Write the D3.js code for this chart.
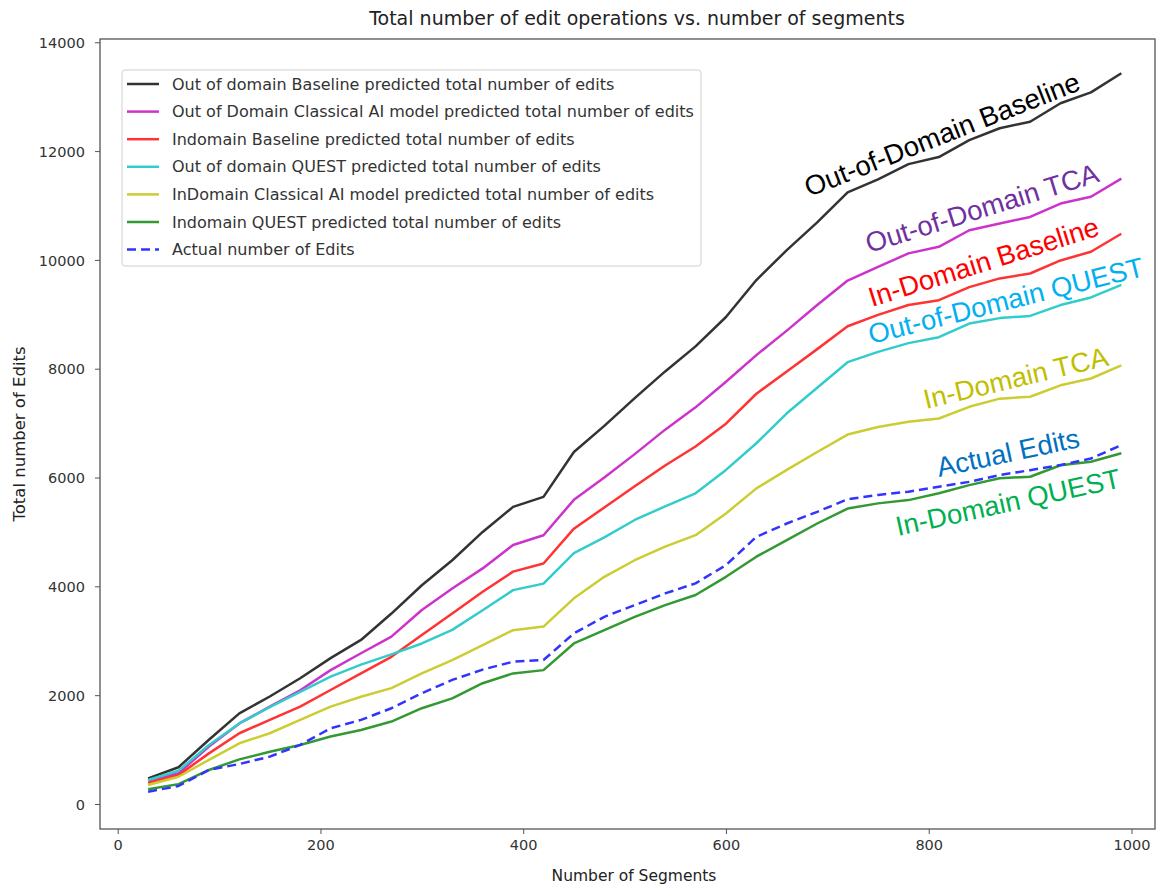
<!DOCTYPE html>
<html>
<head>
<meta charset="utf-8">
<script src="https://cdn.jsdelivr.net/npm/d3@7"></script>
<style>
  html, body { margin: 0; padding: 0; background: #fff; }
  svg { display: block; }
</style>
</head>
<body>
<svg id="chart" width="1156" height="885"></svg>
<script>
// ---------- DATA ----------
const segments = [30,60,90,120,150,180,210,240,270,300,330,360,390,420,450,480,510,540,570,600,630,660,690,720,750,780,810,840,870,900,930,960,990];

const outBaseline = [470,675,1180,1665,1975,2310,2680,3015,3500,4020,4480,5000,5460,5645,6470,6950,7460,7950,8410,8950,9630,10180,10690,11240,11480,11760,11890,12200,12420,12540,12880,13080,13430];
const outTCA      = [430,565,1055,1480,1790,2090,2460,2770,3075,3565,3960,4330,4760,4940,5590,6000,6430,6880,7290,7760,8250,8700,9170,9620,9870,10120,10240,10545,10670,10790,11035,11160,11495];
const inBaseline  = [390,530,930,1300,1545,1790,2095,2400,2705,3105,3500,3900,4270,4420,5060,5450,5840,6220,6570,6990,7540,7950,8360,8780,8990,9170,9260,9500,9660,9750,9990,10150,10480];
const outQuest    = [440,610,1085,1480,1780,2060,2340,2560,2750,2950,3200,3560,3930,4050,4610,4900,5220,5470,5710,6140,6630,7180,7650,8120,8310,8470,8580,8830,8930,8970,9170,9310,9540];
const inTCA       = [350,500,810,1115,1300,1545,1790,1970,2130,2400,2645,2920,3195,3260,3780,4175,4480,4730,4940,5340,5800,6140,6470,6790,6930,7025,7085,7300,7450,7485,7695,7820,8060];
const inQuest     = [270,365,625,820,960,1085,1240,1360,1515,1760,1940,2220,2400,2460,2950,3195,3440,3655,3840,4175,4545,4850,5155,5430,5525,5585,5710,5860,5985,6015,6225,6290,6445];
const actual      = [225,330,625,735,870,1085,1390,1545,1760,2035,2280,2470,2615,2645,3135,3440,3655,3870,4055,4390,4910,5155,5370,5600,5680,5740,5830,5920,6045,6135,6230,6350,6595];

const legendLabels = [
  "Out of domain Baseline predicted total number of edits",
  "Out of Domain Classical AI model predicted total number of edits",
  "Indomain Baseline predicted total number of edits",
  "Out of domain QUEST predicted total number of edits",
  "InDomain Classical AI model predicted total number of edits",
  "Indomain QUEST predicted total number of edits",
  "Actual number of Edits"
];
const annotationLabels = ["Out-of-Domain Baseline","Out-of-Domain TCA","In-Domain Baseline","Out-of-Domain QUEST","In-Domain TCA","Actual Edits","In-Domain QUEST"];

const xTicks = [0,200,400,600,800,1000];
const yTicks = [0,2000,4000,6000,8000,10000,12000,14000];

const titleText = "Total number of edit operations vs. number of segments";
const xLabel = "Number of Segments";
const yLabel = "Total number of Edits";

// ---------- STYLE ----------
const series = [
  {values: outBaseline, color: "#333333", dash: null},
  {values: outTCA,      color: "#cb33cb", dash: null},
  {values: inBaseline,  color: "#ff3333", dash: null},
  {values: outQuest,    color: "#33cccc", dash: null},
  {values: inTCA,       color: "#cccc33", dash: null},
  {values: inQuest,     color: "#339933", dash: null},
  {values: actual,      color: "#3333ff", dash: "9,5"}
];
const annotations = [
  {text: annotationLabels[0], color: "#000000", x: 809, y: 197, angle: 21.5},
  {text: annotationLabels[1], color: "#7030A0", x: 869, y: 253, angle: 17.2},
  {text: annotationLabels[2], color: "#FF0000", x: 872, y: 307, angle: 17.5},
  {text: annotationLabels[3], color: "#00B0F0", x: 871, y: 344, angle: 14.0},
  {text: annotationLabels[4], color: "#BFBF00", x: 926, y: 409, angle: 13.4},
  {text: annotationLabels[5], color: "#0070C0", x: 939, y: 477, angle: 12.0},
  {text: annotationLabels[6], color: "#00B050", x: 898, y: 536, angle: 12.3}
];

const svg = d3.select("#chart");
const L = 100, R = 1155, T = 39, B = 829;

const x = d3.scaleLinear().domain([-17.46, 1023.2]).range([L, R]);
const y = d3.scaleLinear().domain([-460, 14060]).range([B, T]);

const font = "DejaVu Sans, sans-serif";
const axisColor = "#555";

// lines
const line = d3.line().x((d, i) => x(segments[i])).y(d => y(d));
const plot = svg.append("g");
series.forEach(s => {
  plot.append("path")
    .datum(s.values)
    .attr("d", line)
    .attr("fill", "none")
    .attr("stroke", s.color)
    .attr("stroke-width", 2.5)
    .attr("stroke-linejoin", "round")
    .attr("stroke-dasharray", s.dash);
});

// spines
svg.append("rect").attr("x", L).attr("y", T).attr("width", R - L).attr("height", B - T)
  .attr("fill", "none").attr("stroke", axisColor).attr("stroke-width", 1.3);

// axes
const xAxis = svg.append("g").attr("transform", `translate(0,${B})`)
  .call(d3.axisBottom(x).tickValues(xTicks).tickSize(5).tickPadding(6).tickFormat(d3.format("d")));
const yAxis = svg.append("g").attr("transform", `translate(${L},0)`)
  .call(d3.axisLeft(y).tickValues(yTicks).tickSize(5).tickPadding(10).tickFormat(d3.format("d")));
[xAxis, yAxis].forEach(a => {
  a.select(".domain").remove();
  a.selectAll(".tick line").attr("stroke", axisColor).attr("stroke-width", 1);
  a.selectAll(".tick text").attr("fill", "#333").style("font-family", font).style("font-size", "14.5px");
});
yAxis.selectAll(".tick text").attr("dy", "0.36em");

// title & labels
svg.append("text").attr("x", 637).attr("y", 25).attr("text-anchor", "middle")
  .style("font-family", font).style("font-size", "19px").attr("fill", "#222").text(titleText);
svg.append("text").attr("x", 634).attr("y", 881).attr("text-anchor", "middle")
  .style("font-family", font).style("font-size", "15.5px").attr("fill", "#222").text(xLabel);
svg.append("text").attr("transform", "translate(25,434) rotate(-90)").attr("text-anchor", "middle")
  .style("font-family", font).style("font-size", "16.5px").attr("fill", "#222").text(yLabel);

// legend
const lg = svg.append("g");
lg.append("rect").attr("x", 122).attr("y", 70).attr("width", 579).attr("height", 196)
  .attr("rx", 3).attr("fill", "#fff").attr("fill-opacity", 0.8).attr("stroke", "#d0d0d0").attr("stroke-width", 1);
legendLabels.forEach((lab, i) => {
  const yy = 84 + i * 27.6;
  lg.append("line").attr("x1", 127).attr("x2", 159).attr("y1", yy).attr("y2", yy)
    .attr("stroke", series[i].color).attr("stroke-width", 2.5).attr("stroke-dasharray", series[i].dash);
  lg.append("text").attr("x", 172).attr("y", yy).attr("dy", "0.35em")
    .style("font-family", font).style("font-size", "16px").attr("fill", "#333").text(lab);
});

// annotations
annotations.forEach(a => {
  svg.append("text")
    .attr("transform", `translate(${a.x},${a.y}) rotate(${-a.angle})`)
    .style("font-family", "Liberation Sans, Arial, sans-serif").style("font-size", "27.5px")
    .attr("fill", a.color).text(a.text);
});
</script>
</body>
</html>
